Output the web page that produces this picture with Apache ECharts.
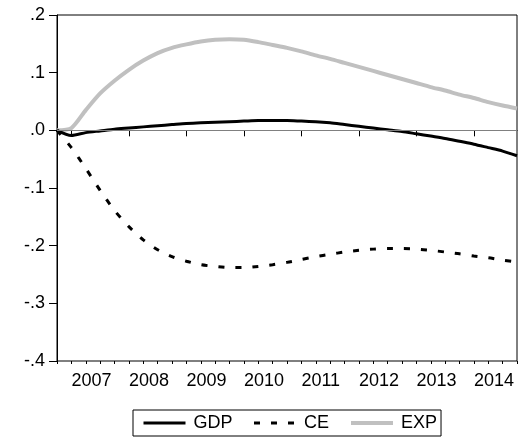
<!DOCTYPE html>
<html>
<head>
<meta charset="utf-8">
<script src="https://cdn.jsdelivr.net/npm/echarts@6/dist/echarts.min.js"></script>
<style>
  html, body { margin: 0; padding: 0; background: #fff; }
  #chart { width: 518px; height: 444px; }
</style>
</head>
<body>
<div id="chart"></div>
<script>
// Quarterly horizon, 2006Q4 .. 2014Q4
const periods = [
  '2006Q4',
  '2007Q1','2007Q2','2007Q3','2007Q4',
  '2008Q1','2008Q2','2008Q3','2008Q4',
  '2009Q1','2009Q2','2009Q3','2009Q4',
  '2010Q1','2010Q2','2010Q3','2010Q4',
  '2011Q1','2011Q2','2011Q3','2011Q4',
  '2012Q1','2012Q2','2012Q3','2012Q4',
  '2013Q1','2013Q2','2013Q3','2013Q4',
  '2014Q1','2014Q2','2014Q3','2014Q4'
];

const gdp = [
  0.000, -0.009, -0.004, -0.001, 0.002, 0.004, 0.006, 0.008, 0.010,
  0.012, 0.013, 0.014, 0.015, 0.016, 0.017, 0.017, 0.017,
  0.016, 0.015, 0.013, 0.010, 0.007, 0.004, 0.001, -0.002,
  -0.006, -0.010, -0.014, -0.019, -0.024, -0.030, -0.036, -0.044
];

const ce = [
  0.000, -0.030, -0.066, -0.104, -0.139, -0.167, -0.190, -0.207, -0.219,
  -0.227, -0.233, -0.236, -0.238, -0.238, -0.236, -0.233, -0.229,
  -0.224, -0.219, -0.215, -0.211, -0.208, -0.206, -0.205, -0.205,
  -0.206, -0.208, -0.211, -0.214, -0.218, -0.221, -0.225, -0.228
];

const exp = [
  0.000, 0.004, 0.035, 0.064, 0.086, 0.105, 0.121, 0.134, 0.143,
  0.149, 0.154, 0.157, 0.158, 0.157, 0.153, 0.148, 0.143,
  0.137, 0.130, 0.124, 0.117, 0.110, 0.103, 0.096, 0.089,
  0.082, 0.075, 0.069, 0.062, 0.056, 0.049, 0.043, 0.038
];

const yTicks = { min: -0.4, max: 0.2, step: 0.1 };

const FONT = '"Liberation Sans", Arial, sans-serif';

function fmtY(v) {
  const r = Math.round(v * 10) / 10;
  if (r === 0) return '.0';
  const s = Math.abs(r).toFixed(1).replace(/^0/, '');
  return (r < 0 ? '-' : '') + s;
}

const isQ1 = (i) => periods[i].endsWith('Q1');

const chart = echarts.init(document.getElementById('chart'), null, { renderer: 'canvas' });

chart.setOption({
  animation: false,
  backgroundColor: '#fff',
  textStyle: { fontFamily: FONT, color: '#000' },
  grid: {
    left: 57, top: 15, width: 460, height: 346,
    show: true, borderColor: '#000', borderWidth: 1, backgroundColor: 'transparent'
  },
  legend: {
    left: 133, top: 410,
    padding: [4, 4, 4, 9],
    itemGap: 20,
    itemWidth: 42, itemHeight: 14,
    borderColor: '#000', borderWidth: 1,
    lineStyle: { width: 'inherit' },
    itemStyle: { opacity: 0 },
    textStyle: { fontFamily: FONT, fontSize: 18, color: '#000', padding: [0, 0, 0, 3] },
    data: ['GDP', 'CE', 'EXP']
  },
  xAxis: [
    {
      type: 'category', data: periods, boundaryGap: false, position: 'bottom',
      axisLine: { lineStyle: { color: '#000', width: 1 } },
      axisTick: { interval: (i) => isQ1(i), length: 6, lineStyle: { color: '#000' } },
      axisLabel: {
        interval: (i) => isQ1(i), align: 'left', margin: 11,
        fontFamily: FONT, fontSize: 18, color: '#000',
        formatter: (v) => v.slice(0, 4)
      },
      splitLine: { show: false }
    },
    {
      type: 'category', data: periods, boundaryGap: false, position: 'bottom',
      axisLine: { show: false },
      axisTick: { interval: 0, length: 3, lineStyle: { color: '#000' } },
      axisLabel: { show: false },
      splitLine: { show: false }
    }
  ],
  yAxis: {
    type: 'value', min: yTicks.min, max: yTicks.max, interval: yTicks.step,
    axisLine: { show: true, lineStyle: { color: '#000', width: 1 } },
    axisTick: { show: true, length: 8, lineStyle: { color: '#000' } },
    axisLabel: { fontFamily: FONT, fontSize: 18, color: '#000', margin: 12, formatter: fmtY },
    splitLine: { show: false }
  },
  series: [
    {
      name: 'EXP', type: 'line', data: exp, symbol: 'none', z: 1, smooth: 0.25,
      lineStyle: { color: '#c0c0c0', width: 4 },
      itemStyle: { color: '#c0c0c0' },
      markLine: {
        silent: true, symbol: 'none', label: { show: false },
        lineStyle: { color: '#808080', width: 1, type: 'solid' },
        data: [{ yAxis: 0 }]
      }
    },
    {
      name: 'CE', type: 'line', data: ce, symbol: 'none', z: 2, smooth: 0.25,
      lineStyle: { color: '#000', width: 3, type: [6, 11], cap: 'butt' },
      itemStyle: { color: '#000' }
    },
    {
      name: 'GDP', type: 'line', data: gdp, symbol: 'none', z: 3, smooth: 0.25,
      lineStyle: { color: '#000', width: 3 },
      itemStyle: { color: '#000' }
    }
  ]
});
</script>
</body>
</html>
